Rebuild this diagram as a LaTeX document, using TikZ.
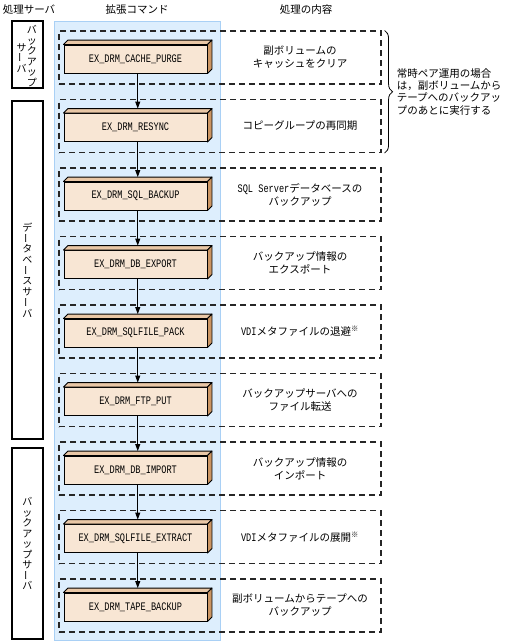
\documentclass[tikz,border=0pt]{standalone}
\usepackage{fontspec}
\usepackage{graphicx}
\setmainfont{Noto Sans CJK JP}
\newfontfamily\cmdfont[FakeStretch=0.75]{Liberation Mono}
\usetikzlibrary{arrows.meta,decorations.pathreplacing}

\definecolor{colfill}{HTML}{DDEEFD}
\definecolor{colline}{HTML}{A9D0F5}
\definecolor{cmdfront}{HTML}{F8E6D4}
\definecolor{cmdtop}{HTML}{E9C7A6}
\definecolor{cmdside}{HTML}{CC9663}

\newcommand{\latin}[1]{{\cmdfont\fontsize{11.5}{13}\selectfont #1}}
\newcommand{\chouon}{\raisebox{-0.1em}{\rotatebox{90}{ー}}}

\begin{document}
\begin{tikzpicture}[x=1pt,y=-1pt,
    serverbox/.style={draw,line width=1.3pt,minimum width=31pt,inner sep=0},
    tate/.style={align=center,inner sep=0,font=\fontsize{10}{10.5}\selectfont},
    stepframe/.style={draw=black!85,line width=1.1pt,dash pattern=on 6pt off 4pt,
        minimum width=322pt,minimum height=53pt,inner sep=0},
    cmdbox/.style={draw,line width=0.9pt,fill=cmdfront,minimum width=143pt,
        minimum height=28pt,inner sep=0,font=\cmdfont\fontsize{11.5}{12}\selectfont},
    desc/.style={align=center,font=\fontsize{10.5}{13}\selectfont},
    flow/.style={line width=1pt,-{Triangle[length=7pt,width=5pt]}}]

        \useasboundingbox (0,0) rectangle (508,643);

        %\draw [help lines,step=50] (0,0) grid (508,643);

        % headings
        \node[font=\fontsize{10.5}{12}\selectfont] (hserver) at (29,10) {処理サーバ};
        \node[font=\fontsize{10.5}{12}\selectfont] (hcmd) at (137,10) {拡張コマンド};
        \node[font=\fontsize{10.5}{12}\selectfont] (hdesc) at (306,10) {処理の内容};

        % command column
        \path[fill=colfill,draw=colline,line width=0.9pt] (54,21) rectangle (220.5,640);

        % servers
        \node[serverbox,minimum height=67pt] (s1) at (27.5,54.5) {};
        \node[serverbox,minimum height=338pt] (s2) at (27.5,270) {};
        \node[serverbox,minimum height=191pt] (s3) at (27.5,543.5) {};

        \node[tate] (t1a) at (32,56) {バ\\ッ\\ク\\ア\\ッ\\プ};
        \node[tate] (t1b) at (21.5,58) {サ\\\chouon\\バ};
        \node[tate,font=\fontsize{10}{10.7}\selectfont] (t2) at (s2) {デ\\\chouon\\タ\\ベ\\\chouon\\ス\\サ\\\chouon\\バ};
        \node[tate] (t3) at (s3) {バ\\ッ\\ク\\ア\\ッ\\プ\\サ\\\chouon\\バ};

        % dashed frames
        \node[stepframe] (f1) at (220,57.5) {};
        \node[stepframe] (f2) at (220,126) {};
        \node[stepframe] (f3) at (220,194.5) {};
        \node[stepframe] (f4) at (220,263) {};
        \node[stepframe] (f5) at (220,331.5) {};
        \node[stepframe] (f6) at (220,400) {};
        \node[stepframe] (f7) at (220,468.5) {};
        \node[stepframe] (f8) at (220,537) {};
        \node[stepframe] (f9) at (220,605.5) {};

        % commands
        \node[cmdbox] (c1) at (135.5,59) {EX\_DRM\_CACHE\_PURGE};
        \node[cmdbox] (c2) at (135.5,127.5) {EX\_DRM\_RESYNC};
        \node[cmdbox] (c3) at (135.5,196) {EX\_DRM\_SQL\_BACKUP};
        \node[cmdbox] (c4) at (135.5,264.5) {EX\_DRM\_DB\_EXPORT};
        \node[cmdbox] (c5) at (135.5,333) {EX\_DRM\_SQLFILE\_PACK};
        \node[cmdbox] (c6) at (135.5,401.5) {EX\_DRM\_FTP\_PUT};
        \node[cmdbox] (c7) at (135.5,470) {EX\_DRM\_DB\_IMPORT};
        \node[cmdbox] (c8) at (135.5,538.5) {EX\_DRM\_SQLFILE\_EXTRACT};
        \node[cmdbox] (c9) at (135.5,607) {EX\_DRM\_TAPE\_BACKUP};

        \foreach \c in {c1,c2,c3,c4,c5,c6,c7,c8,c9} {
            \draw[line width=0.9pt,line join=round,fill=cmdtop] (\c.north west) -- ++(4.5pt,4.5pt)
                -- ([shift={(4.5pt,4.5pt)}]\c.north east) -- (\c.north east) -- cycle;
            \draw[line width=0.9pt,line join=round,fill=cmdside] (\c.north east) -- ++(4.5pt,4.5pt)
                -- ([shift={(4.5pt,4.5pt)}]\c.south east) -- (\c.south east) -- cycle;
        }

        \foreach \a/\b in {c1/c2,c2/c3,c3/c4,c4/c5,c5/c6,c6/c7,c7/c8,c8/c9}
            \draw[flow] ([xshift=2.25pt]\a.south) -- ([xshift=2.25pt,yshift=4.5pt]\b.north);

        % descriptions
        \node[desc] (d1) at (300,57.5) {副ボリュームの\\キャッシュをクリア};
        \node[desc] (d2) at (300,126) {コピーグループの再同期};
        \node[desc] (d3) at (300,194.5) {\latin{SQL Server}データベースの\\バックアップ};
        \node[desc] (d4) at (300,263) {バックアップ情報の\\エクスポート};
        \node[desc] (d5) at (300,331.5) {\latin{VDI}メタファイルの退避\textsuperscript{※}};
        \node[desc] (d6) at (300,400) {バックアップサーバへの\\ファイル転送};
        \node[desc] (d7) at (300,468.5) {バックアップ情報の\\インポート};
        \node[desc] (d8) at (300,537) {\latin{VDI}メタファイルの展開\textsuperscript{※}};
        \node[desc] (d9) at (300,605.5) {副ボリュームからテープへの\\バックアップ};

        % note for the first two steps
        \draw[line width=0.8pt,decorate,decoration={brace,amplitude=8pt}]
            ([xshift=3pt]f1.north east) -- ([xshift=3pt]f2.south east) coordinate[midway,xshift=9pt] (tip);
        \node[anchor=west,align=left,inner sep=0,font=\fontsize{10.5}{12.3}\selectfont] (note) at ([xshift=3pt]tip)
            {常時ペア運用の場合\\は，副ボリュームから\\テープへのバックアッ\\プのあとに実行する};

\end{tikzpicture}
\end{document}
